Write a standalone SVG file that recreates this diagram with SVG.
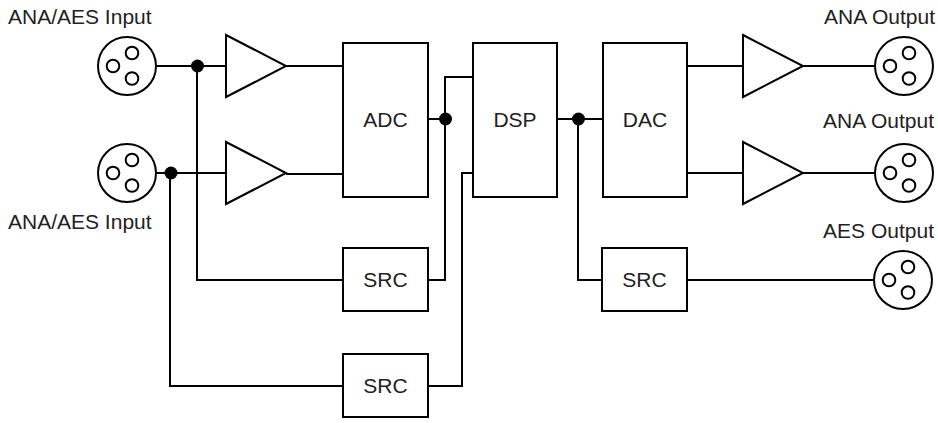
<svg xmlns="http://www.w3.org/2000/svg" width="938" height="423" viewBox="0 0 938 423">
<style>
.ln{fill:none;stroke:#000;stroke-width:2}
.box{fill:#fff;stroke:#000;stroke-width:2}
.dot{fill:#000}
.t{font-family:"Liberation Sans",Arial,sans-serif;font-size:21px;fill:#222}
.c{text-anchor:middle}
.e{text-anchor:end}
</style>
<defs>
<g id="xlr">
<circle r="29" class="box"/>
<circle cx="-14" cy="0" r="6.3" class="box"/>
<circle cx="5" cy="-13" r="6.3" class="box"/>
<circle cx="5" cy="12.5" r="6.3" class="box"/>
</g>
<polygon id="amp" points="0,-31 60,0 0,31" class="box"/>
</defs>
<g id="connectors">
<path class="ln" d="M156,66 H226"/>
<path class="ln" d="M156,173 H226"/>
<path class="ln" d="M286,66 H343"/>
<path class="ln" d="M286,174 H343"/>
<path class="ln" d="M197,66 V280 H343"/>
<path class="ln" d="M170,173 V386 H343"/>
<path class="ln" d="M428,119 H445"/>
<path class="ln" d="M428,280 H445 V77 H473"/>
<path class="ln" d="M428,386 H462 V173 H473"/>
<path class="ln" d="M557,119 H603"/>
<path class="ln" d="M578,119 V280 H602"/>
<path class="ln" d="M687,66 H743"/>
<path class="ln" d="M687,173 H743"/>
<path class="ln" d="M803,66 H875"/>
<path class="ln" d="M803,173 H875"/>
<path class="ln" d="M687,280 H874"/>
<circle class="dot" cx="197.5" cy="66" r="6.5"/>
<circle class="dot" cx="171" cy="173" r="6.5"/>
<circle class="dot" cx="445.5" cy="119" r="6.5"/>
<circle class="dot" cx="578.5" cy="119" r="6.5"/>
</g>
<g id="in1"><use href="#xlr" x="127" y="66"/><text class="t" x="8" y="24">ANA/AES Input</text></g>
<g id="in2"><use href="#xlr" x="127" y="173"/><text class="t" x="8" y="229">ANA/AES Input</text></g>
<g id="amp1"><use href="#amp" x="226" y="66"/></g>
<g id="amp2"><use href="#amp" x="226" y="173"/></g>
<g id="adc"><rect class="box" x="343" y="43" width="85" height="154"/><text class="t c" x="385.5" y="127">ADC</text></g>
<g id="dsp"><rect class="box" x="473" y="43" width="84" height="154"/><text class="t c" x="515" y="127">DSP</text></g>
<g id="dac"><rect class="box" x="603" y="43" width="84" height="154"/><text class="t c" x="645" y="127">DAC</text></g>
<g id="src1"><rect class="box" x="343" y="248" width="85" height="63"/><text class="t c" x="385.5" y="287">SRC</text></g>
<g id="src2"><rect class="box" x="343" y="354" width="85" height="63"/><text class="t c" x="385.5" y="393">SRC</text></g>
<g id="src3"><rect class="box" x="602" y="248" width="85" height="63"/><text class="t c" x="644.5" y="287">SRC</text></g>
<g id="amp3"><use href="#amp" x="743" y="66"/></g>
<g id="amp4"><use href="#amp" x="743" y="173"/></g>
<g id="out1"><use href="#xlr" x="904" y="66"/><text class="t e" x="935" y="24">ANA Output</text></g>
<g id="out2"><use href="#xlr" x="904" y="173"/><text class="t e" x="934" y="128">ANA Output</text></g>
<g id="out3"><use href="#xlr" x="903" y="280"/><text class="t e" x="934" y="238">AES Output</text></g>
</svg>
